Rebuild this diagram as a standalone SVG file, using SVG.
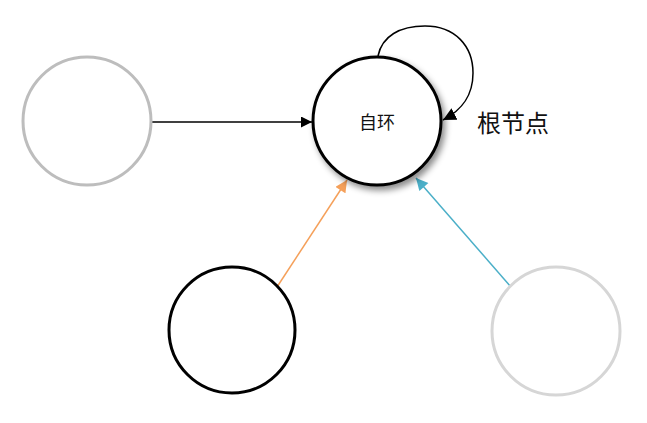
<svg xmlns="http://www.w3.org/2000/svg" width="647" height="423" viewBox="0 0 647 423">
<defs>
<style>
.node{fill:#fff;stroke-width:3}
.edge{fill:none;stroke-width:1.5}
text{font-family:"Noto Sans CJK SC",sans-serif;fill:#111;text-anchor:middle;dominant-baseline:central}
</style>
<marker id="ak" viewBox="0 0 10 10" refX="10" refY="5" markerWidth="12" markerHeight="11" markerUnits="userSpaceOnUse" orient="auto"><path d="M0,0L10,5L0,10z" fill="#000"/></marker>
<marker id="ak2" viewBox="0 0 10 10" refX="10" refY="5" markerWidth="13" markerHeight="13" markerUnits="userSpaceOnUse" orient="auto"><path d="M0,0L10,5L0,10z" fill="#000"/></marker>
<marker id="ao" viewBox="0 0 10 10" refX="10" refY="5" markerWidth="13" markerHeight="12" markerUnits="userSpaceOnUse" orient="auto"><path d="M0,0L10,5L0,10z" fill="#f5a05a"/></marker>
<marker id="ab" viewBox="0 0 10 10" refX="10" refY="5" markerWidth="13" markerHeight="12" markerUnits="userSpaceOnUse" orient="auto"><path d="M0,0L10,5L0,10z" fill="#4bafc8"/></marker>
<filter id="sh" x="-30%" y="-30%" width="160%" height="160%"><feDropShadow dx="3" dy="4" stdDeviation="3" flood-color="#000" flood-opacity="0.45"/></filter>
</defs>
<g id="connectors">
<path class="edge" d="M152,122L312,122" stroke="#000" marker-end="url(#ak)"/>
<path class="edge" d="M277,287L347,180" stroke="#f5a05a" marker-end="url(#ao)"/>
<path class="edge" d="M511,287L416,178" stroke="#4bafc8" marker-end="url(#ab)"/>
<path class="edge" d="M378,56C382,36 400,26 425,26C455,26 473,46 473,73C473,96 462,110 443,120" stroke="#000" stroke-width="2" marker-end="url(#ak2)"/>
</g>
<g id="n-left"><circle class="node" cx="87" cy="121" r="64" stroke="#bdbdbd"/></g>
<g id="n-root"><circle class="node" cx="377" cy="121" r="64" stroke="#000" filter="url(#sh)"/><text x="377" y="121" font-size="18">自环</text></g>
<g id="n-bl"><circle class="node" cx="232" cy="330" r="63" stroke="#000"/></g>
<g id="n-br"><circle class="node" cx="556" cy="331" r="64" stroke="#d6d6d6"/></g>
<g id="label"><text x="513" y="121" font-size="24">根节点</text></g>
</svg>
